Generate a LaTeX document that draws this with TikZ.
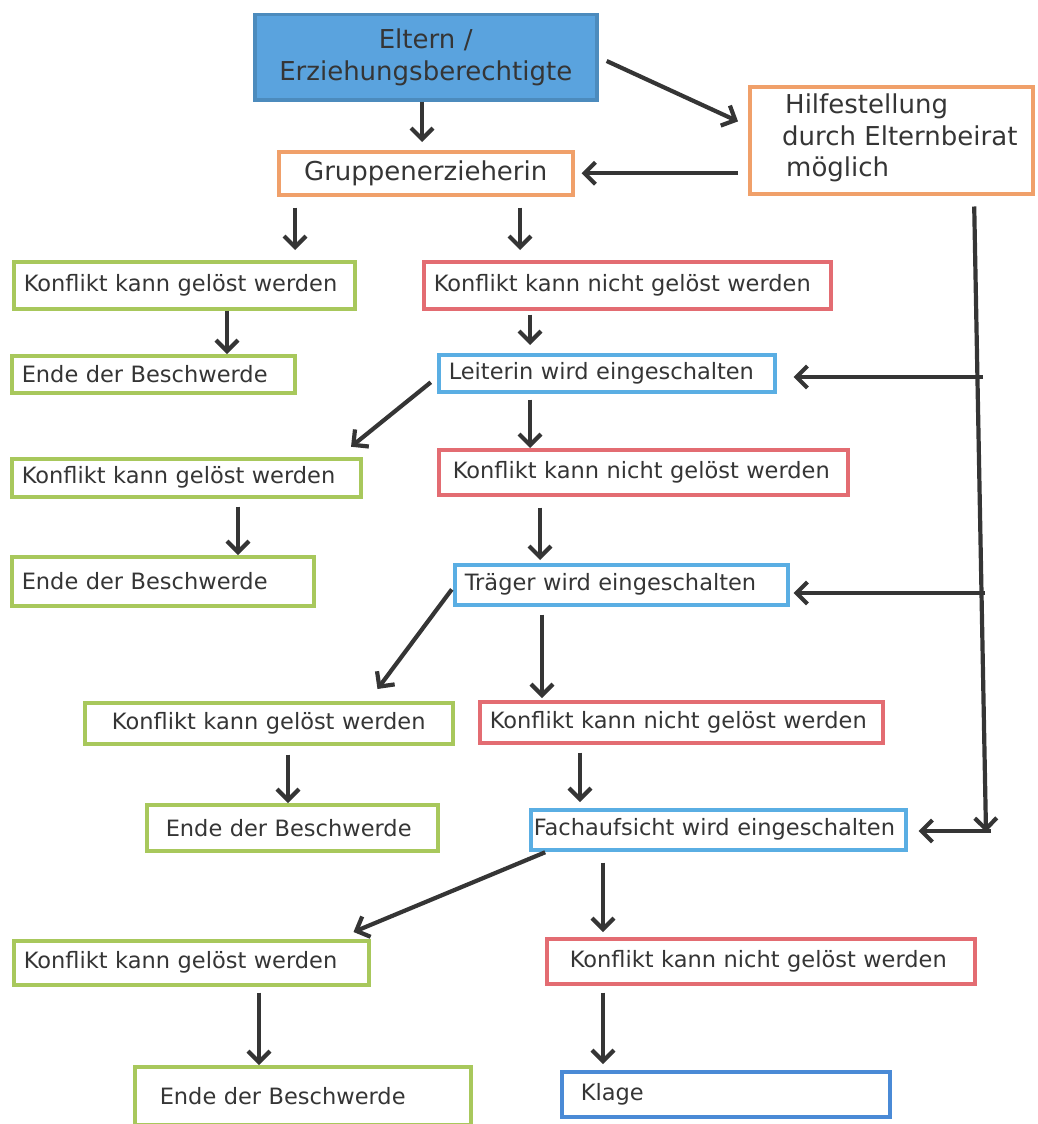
\documentclass[tikz,border=0pt]{standalone}
\usepackage{fontspec}
\setmainfont{DejaVu Sans}
\usetikzlibrary{arrows.meta}
\definecolor{klgreen}{HTML}{A8C85C}
\definecolor{klred}{HTML}{E36C72}
\definecolor{klblue}{HTML}{5AAEE3}
\definecolor{kldblue}{HTML}{4A8AD6}
\definecolor{klorange}{HTML}{F0A06A}
\definecolor{eltfill}{HTML}{5AA3DE}
\definecolor{klgray}{HTML}{353535}

\tikzset{
  kbox/.style={rectangle, draw=#1, line width=3.5pt, anchor=north west,
    inner xsep=10pt, inner ysep=0pt, align=left, text=klgray,
    font=\fontsize{22.5}{27}\selectfont},
  kbig/.style={font=\fontsize{26}{31.5}\selectfont},
  karr/.style={-{Straight Barb[length=11pt,width=22pt]}, line width=4.2pt, draw=klgray},
}

\begin{document}
\begin{tikzpicture}[x=1pt,y=-1pt]
\useasboundingbox (0,0) rectangle (1038,1124);
\clip (0,0) rectangle (1038,1124);

% top part
\node[kbox=eltfill!85!black, fill=eltfill, kbig, align=center,
      text width=322pt, minimum height=85pt]
  (elt) at (253,13) {Eltern /\\Erziehungsberechtigte};
\node[kbox=klorange, minimum width=283pt, minimum height=107pt]
  (hilf) at (748,85) {};
\node[kbig, text=klgray, align=left, anchor=north west, inner sep=0pt]
  (hilftxt) at (782,94) {\hspace*{3pt}Hilfestellung\\durch Elternbeirat\\\hspace*{4pt}möglich};
\node[kbox=klorange, kbig, align=center, text width=274pt, minimum height=43pt]
  (grp) at (277,150) {Gruppenerzieherin};

% stage 1
\node[kbox=klgreen, text width=321pt, minimum height=47pt]
  (ok1) at (12,260) {Konflikt kann gelöst werden};
\node[kbox=klred, text width=387pt, minimum height=47pt]
  (nok1) at (422,260) {Konflikt kann nicht gelöst werden};
\node[kbox=klgreen, text width=263pt, minimum height=37pt]
  (end1) at (10,354) {Ende der Beschwerde};
\node[kbox=klblue, text width=316pt, minimum height=37pt]
  (leit) at (437,353) {Leiterin wird eingeschalten};

% stage 2
\node[kbox=klgreen, text width=329pt, minimum height=38pt]
  (ok2) at (10,457) {Konflikt kann gelöst werden};
\node[kbox=klred, inner xsep=14pt, text width=381pt, minimum height=45pt]
  (nok2) at (437,448) {Konflikt kann nicht gelöst werden};
\node[kbox=klgreen, text width=282pt, minimum height=49pt]
  (end2) at (10,555) {Ende der Beschwerde};
\node[kbox=klblue, text width=313pt, minimum height=40pt]
  (traeg) at (453,563) {Träger wird eingeschalten};

% stage 3
\node[kbox=klgreen, align=center, text width=348pt, minimum height=41pt]
  (ok3) at (83,701) {Konflikt kann gelöst werden};
\node[kbox=klred, text width=383pt, minimum height=41pt]
  (nok3) at (478,700) {Konflikt kann nicht gelöst werden};
\node[kbox=klgreen, inner xsep=19pt, text width=253pt, minimum height=46pt]
  (end3) at (145,803) {Ende der Beschwerde};
\node[kbox=klblue, inner xsep=3pt, text width=369pt, minimum height=40pt]
  (fach) at (529,808) {Fachaufsicht wird eingeschalten};

% stage 4
\node[kbox=klgreen, inner xsep=10pt, text width=335pt, minimum height=44pt]
  (ok4) at (12,939) {Konflikt kann gelöst werden};
\node[kbox=klred, inner xsep=23pt, text width=382pt, minimum height=45pt]
  (nok4) at (545,937) {Konflikt kann nicht gelöst werden};
\node[kbox=klgreen, inner xsep=25pt, text width=286pt, minimum height=58pt]
  (end4) at (133,1065) {Ende der Beschwerde};
\node[kbox=kldblue, inner xsep=19pt, text width=290pt, minimum height=45pt]
  (klage) at (560,1070) {Klage};

% arrows
\draw[karr, shorten >=8pt] (elt.south -| 422,0) -- (grp.north -| 422,0);
\draw[karr, shorten <=9pt, shorten >=11pt] (elt.east) -- (hilf.west |- 0,126);
\draw[karr, shorten <=10pt, shorten >=7pt] (hilf.west |- grp.east) -- (grp.east);
\draw[karr, shorten <=11pt, shorten >=10pt] (grp.south -| 295,0) -- (ok1.north -| 295,0);
\draw[karr, shorten <=11pt, shorten >=10pt] (grp.south -| 520,0) -- (nok1.north -| 520,0);
\draw[karr] (ok1.south -| 227,0) -- (end1.north -| 227,0);
\draw[karr, shorten <=4pt, shorten >=8pt] (nok1.south -| 530,0) -- (leit.north -| 530,0);
\draw[karr, shorten <=8pt, shorten >=2pt] ([yshift=-4pt]leit.west) -- ([xshift=-13pt,yshift=9pt]ok2.north east);
\draw[karr, shorten <=6pt] (leit.south -| 530,0) -- (nok2.north -| 530,0);
\draw[karr, shorten <=8pt] (ok2.south -| 238,0) -- (end2.north -| 238,0);
\draw[karr, shorten <=11pt, shorten >=3pt] (nok2.south -| 540,0) -- (traeg.north -| 540,0);
\draw[karr, shorten <=2pt] ([yshift=-3pt]traeg.west) -- ([xshift=-77pt,yshift=12pt]ok3.north east);
\draw[karr, shorten <=8pt, shorten >=2pt] (traeg.south -| 542,0) -- (nok3.north -| 542,0);
\draw[karr, shorten <=9pt] (ok3.south -| 288,0) -- (end3.north -| 288,0);
\draw[karr, shorten <=8pt, shorten >=6pt] (nok3.south -| 580,0) -- (fach.north -| 580,0);
\draw[karr, shorten <=2pt] ([xshift=18pt]fach.south west) -- ([xshift=-17pt,yshift=7pt]ok4.north east);
\draw[karr, shorten <=11pt, shorten >=5pt] (fach.south -| 603,0) -- (nok4.north -| 603,0);
\draw[karr, shorten <=6pt] (ok4.south -| 259,0) -- (end4.north -| 259,0);
\draw[karr, shorten <=7pt, shorten >=6pt] (nok4.south -| 603,0) -- (klage.north -| 603,0);

% Elternbeirat line on the right
\coordinate (tend) at (986,832);
\coordinate (j1) at (983,377);
\coordinate (j2) at (985,593);
\coordinate (j3) at (991,831);
\draw[karr, shorten <=11pt] (hilf.south -| 974,0) -- (tend);
\draw[karr, shorten >=17pt] (j1) -- (j1 -| leit.east);
\draw[karr, shorten >=4pt] (j2) -- (j2 -| traeg.east);
\draw[karr, shorten >=11pt] (j3) -- (j3 -| fach.east);
\end{tikzpicture}
\end{document}
